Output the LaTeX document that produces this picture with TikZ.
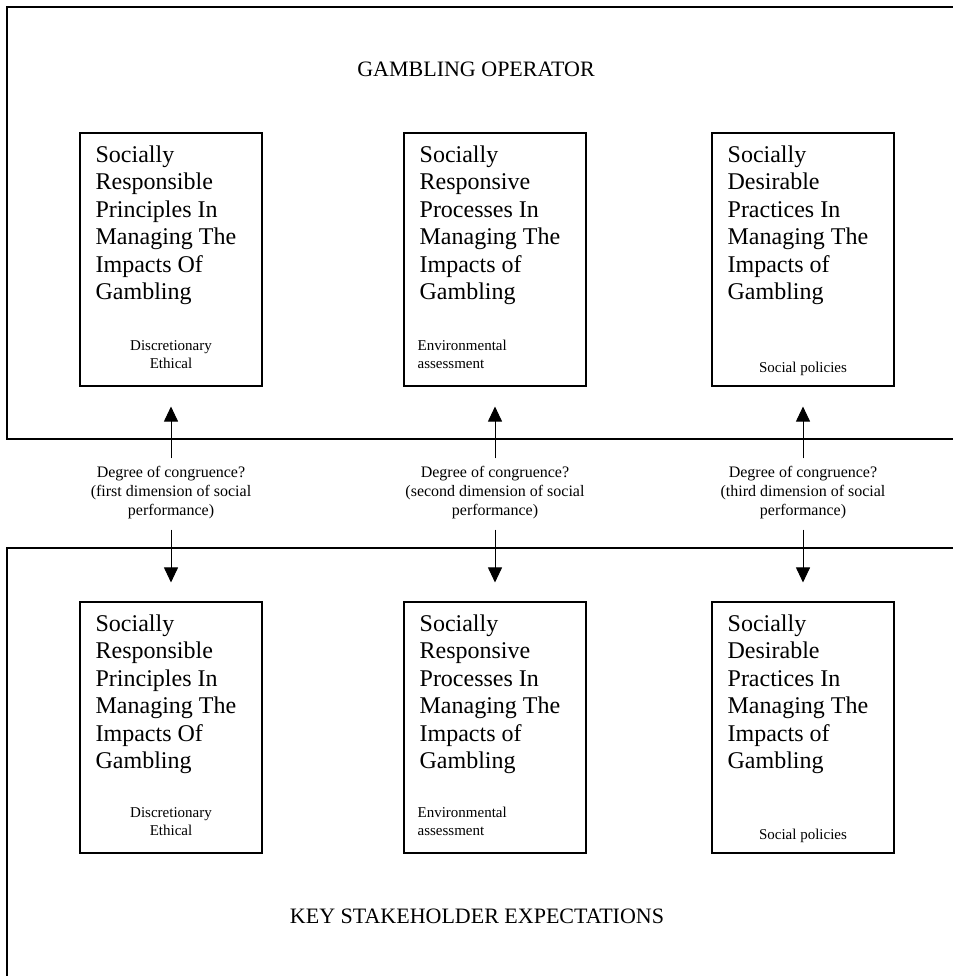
\documentclass[tikz,border=0pt]{standalone}
\usepackage{fontspec}
\setmainfont{Liberation Serif}
\usetikzlibrary{arrows.meta}
\tikzset{
  frame/.style={line width=1.4pt, line cap=rect},
  gbox/.style={draw, line width=1.1pt, minimum width=182pt, inner sep=0pt},
  boxtext/.style={anchor=north west, align=left, inner sep=0pt, font=\fontsize{24pt}{27.5pt}\selectfont},
  smalltext/.style={inner sep=0pt, font=\fontsize{15pt}{17.5pt}\selectfont},
  degtext/.style={align=center, inner sep=0pt, font=\fontsize{16pt}{19pt}\selectfont},
  header/.style={inner sep=0pt, font=\fontsize{22pt}{26pt}\selectfont},
  arr/.style={line width=0.9pt, -{Triangle[width=14pt,length=15pt]}}
}
\begin{document}
\begin{tikzpicture}[x=1pt,y=-1pt]
\useasboundingbox (0,0) rectangle (952,976);
% outer frames
\draw[frame] (953,7) -- (7,7) -- (7,439) -- (953,439);
\draw[frame] (953,548) -- (7,548) -- (7,977);
% headers
\node[header] (hop) at (476,69) {GAMBLING OPERATOR};
\node[header] (hks) at (477,916) {KEY STAKEHOLDER EXPECTATIONS};
% top boxes
\node[gbox, minimum height=253pt] (t1) at (171,259.5) {};
\node[gbox, minimum height=253pt] (t2) at (495,259.5) {};
\node[gbox, minimum height=253pt] (t3) at (803,259.5) {};
% bottom boxes
\node[gbox, minimum height=251pt] (b1) at (171,727.5) {};
\node[gbox, minimum height=251pt] (b2) at (495,727.5) {};
\node[gbox, minimum height=251pt] (b3) at (803,727.5) {};
% box texts (top)
\node[boxtext] (t1txt) at ([shift={(16,13)}]t1.north west) {Socially\\Responsible\\Principles In\\Managing The\\Impacts Of\\Gambling};
\node[boxtext] (t2txt) at ([shift={(16,13)}]t2.north west) {Socially\\Responsive\\Processes In\\Managing The\\Impacts of\\Gambling};
\node[boxtext] (t3txt) at ([shift={(16,13)}]t3.north west) {Socially\\Desirable\\Practices In\\Managing The\\Impacts of\\Gambling};
% box texts (bottom)
\node[boxtext] (b1txt) at ([shift={(16,13)}]b1.north west) {Socially\\Responsible\\Principles In\\Managing The\\Impacts Of\\Gambling};
\node[boxtext] (b2txt) at ([shift={(16,13)}]b2.north west) {Socially\\Responsive\\Processes In\\Managing The\\Impacts of\\Gambling};
\node[boxtext] (b3txt) at ([shift={(16,13)}]b3.north west) {Socially\\Desirable\\Practices In\\Managing The\\Impacts of\\Gambling};
% small texts
\node[smalltext, align=center, anchor=south] (t1s) at ([shift={(0,-18)}]t1.south) {Discretionary\\Ethical};
\node[smalltext, align=left, anchor=south west] (t2s) at ([shift={(14,-18)}]t2.south west) {Environmental\\assessment};
\node[smalltext, anchor=base] (t3s) at ([shift={(0,-14)}]t3.south) {Social policies};
\node[smalltext, align=center, anchor=south] (b1s) at ([shift={(0,-18)}]b1.south) {Discretionary\\Ethical};
\node[smalltext, align=left, anchor=south west] (b2s) at ([shift={(14,-18)}]b2.south west) {Environmental\\assessment};
\node[smalltext, anchor=base] (b3s) at ([shift={(0,-14)}]b3.south) {Social policies};
% congruence labels
\node[degtext] (d1) at (171,493) {Degree of congruence?\\(first dimension of social\\performance)};
\node[degtext] (d2) at (495,493) {Degree of congruence?\\(second dimension of social\\performance)};
\node[degtext] (d3) at (803,493) {Degree of congruence?\\(third dimension of social\\performance)};
% arrows
\draw[arr, shorten <=8pt, shorten >=20pt] (d1.north) -- (t1.south);
\draw[arr, shorten <=8pt, shorten >=20pt] (d2.north) -- (t2.south);
\draw[arr, shorten <=8pt, shorten >=20pt] (d3.north) -- (t3.south);
\draw[arr, shorten <=10pt, shorten >=19pt] (d1.south) -- (b1.north);
\draw[arr, shorten <=10pt, shorten >=19pt] (d2.south) -- (b2.north);
\draw[arr, shorten <=10pt, shorten >=19pt] (d3.south) -- (b3.north);
\end{tikzpicture}
\end{document}
